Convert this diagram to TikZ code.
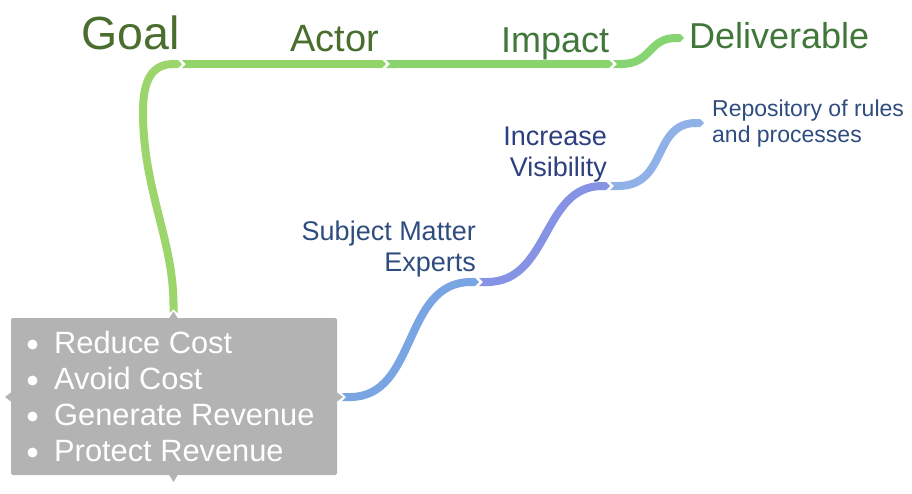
\documentclass[tikz,border=0pt]{standalone}
\usepackage{fontspec}
\setmainfont{Liberation Sans}
\usetikzlibrary{arrows.meta}
\definecolor{boxgray}{HTML}{B3B3B3}
\definecolor{gA}{HTML}{9BD56B}
\definecolor{gB}{HTML}{92D36A}
\definecolor{gC}{HTML}{8AD46E}
\definecolor{gD}{HTML}{87D572}
\definecolor{bA}{HTML}{7AA5E3}
\definecolor{bB}{HTML}{8693E5}
\definecolor{bC}{HTML}{8FB1E8}
\definecolor{gtext}{HTML}{4A6E2E}
\definecolor{gtextb}{HTML}{41773A}
\definecolor{btext}{HTML}{2F4C7F}
\definecolor{btextb}{HTML}{2E3F7E}
\begin{document}
\begin{tikzpicture}[x=1pt,y=-1pt,
  band/.style={line width=8pt,{Triangle Cap[reversed]}-{Triangle Cap}},
  toplabel/.style={inner sep=0pt,anchor=base west},
  item/.style={inner sep=0pt,anchor=base west,text=white,font=\fontsize{30.8}{36}\selectfont},
  bul/.style={fill=white,draw=none},
  marker/.style={fill=boxgray,draw=none}]
\useasboundingbox (0,0) rectangle (912,493);
% root box
\node[fill=boxgray,rounded corners=2pt,minimum width=326pt,minimum height=157pt,inner sep=0pt] (box) at (174,396.5) {};
\fill[marker] (169,318.5) -- (173.5,311.5) -- (178,318.5) -- cycle;
\fill[marker] (169,474.5) -- (173.5,482) -- (178,474.5) -- cycle;
\fill[marker] (11.5,392) -- (5,397) -- (11.5,402) -- cycle;
\fill[marker] (336.5,392) -- (343,397) -- (336.5,402) -- cycle;
% items
\foreach \t [count=\i from 0] in {Reduce Cost,Avoid Cost,Generate Revenue,Protect Revenue}{
  \fill[bul] (32.5,344.5+36*\i) circle (5pt);
  \node[item] (item\i) at (54,353+36*\i) {\t};
}
% junctions
\coordinate (gtop) at (173.5,313);
\coordinate (j1) at (182,64);
\coordinate (j2) at (386,64);
\coordinate (j3) at (613,64);
\coordinate (gend) at (684,38);
\coordinate (bstart) at (342,397);
\coordinate (k1) at (479,282);
\coordinate (k2) at (610,186);
\coordinate (bend) at (704,123);
% green branch
\draw[band,gA] (gtop) .. controls (173.5,240) and (143,190) .. (143,112)
   .. controls (143,78) and (153,64) .. (j1);
\draw[band,gB] (j1) -- (j2);
\draw[band,gC] (j2) -- (j3);
\draw[band,gD] (j3) .. controls (652,64) and (648,38) .. (gend);
% blue branch
\draw[band,bA] (bstart) .. controls (418,397) and (402,282) .. (k1);
\draw[band,bB] (k1) .. controls (550,282) and (542,186) .. (k2);
\draw[band,bC] (k2) .. controls (668,186) and (652,123) .. (bend);
% top labels
\node[toplabel,text=gtext,font=\fontsize{46.5}{54}\selectfont] (goal) at (81,49) {Goal};
\node[toplabel,text=gtext,font=\fontsize{38}{45}\selectfont] (actor) at (290,51) {Actor};
\node[toplabel,text=gtextb,font=\fontsize{36}{43}\selectfont] (impact) at (501,52) {Impact};
\node[toplabel,text=gtextb,font=\fontsize{36}{43}\selectfont] (deliv) at (689,48) {Deliverable};
% blue labels
\node[inner sep=0pt,anchor=base east,text=btext,font=\fontsize{27}{31}\selectfont] (sme) at (476,240)
  {\begin{tabular}[t]{@{}r@{}}Subject Matter\\Experts\end{tabular}};
\node[inner sep=0pt,anchor=base east,text=btextb,font=\fontsize{27}{31}\selectfont] (vis) at (607,145)
  {\begin{tabular}[t]{@{}r@{}}Increase\\Visibility\end{tabular}};
\node[inner sep=0pt,anchor=base west,text=btext,font=\fontsize{23}{26}\selectfont] (repo) at (712,116)
  {\begin{tabular}[t]{@{}l@{}}Repository of rules\\and processes\end{tabular}};
\end{tikzpicture}
\end{document}
